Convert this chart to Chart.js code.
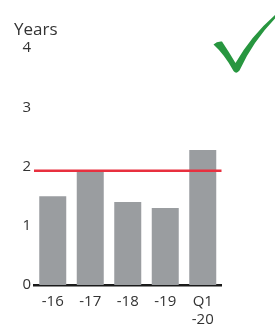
<!DOCTYPE html>
<html>
<head>
<meta charset="utf-8">
<script src="https://cdn.jsdelivr.net/npm/chart.js@4/dist/chart.umd.min.js"></script>
<style>
  html, body { margin: 0; padding: 0; background: #ffffff; }
  #wrap { width: 275px; height: 325px; position: relative; }
</style>
</head>
<body>
<div id="wrap"><canvas id="c" width="275" height="325"></canvas></div>
<script>
const categories = ["-16", "-17", "-18", "-19", ["Q1", "-20"]];
const maturityYears = [1.50, 1.92, 1.40, 1.30, 2.28];
const targetYears = [1.93];
const yTicks = [0, 1, 2, 3, 4];
const unitLabel = "Years";

const FONT = "'Open Sans', 'DejaVu Sans', sans-serif";

const overlay = {
  id: 'overlay',
  afterDatasetsDraw(chart) {
    const { ctx, chartArea, scales } = chart;
    const y = scales.y.getPixelForValue(targetYears[0]);
    ctx.save();
    ctx.strokeStyle = '#e8303f';
    ctx.lineWidth = 2.5;
    ctx.beginPath();
    ctx.moveTo(chartArea.left, y);
    ctx.lineTo(chartArea.right, y);
    ctx.stroke();
    ctx.restore();
  },
  afterDraw(chart) {
    const { ctx } = chart;
    ctx.save();
    ctx.fillStyle = '#333333';
    ctx.font = "17px " + FONT;
    ctx.textBaseline = 'alphabetic';
    ctx.textAlign = 'left';
    ctx.fillText(unitLabel, 14, 34.5);
    // green check mark
    ctx.fillStyle = '#27963f';
    ctx.beginPath();
    ctx.moveTo(213.5, 44.5);
    ctx.quadraticCurveTo(217, 41, 222, 41.5);
    ctx.quadraticCurveTo(229, 52, 235.5, 63);
    ctx.quadraticCurveTo(251, 36, 275, 15);
    ctx.lineTo(276, 17.5);
    ctx.quadraticCurveTo(253, 41, 239.5, 70.5);
    ctx.quadraticCurveTo(236.5, 74.5, 233.5, 71);
    ctx.quadraticCurveTo(225, 55, 213.5, 44.5);
    ctx.closePath();
    ctx.fill();
    ctx.restore();
  }
};

new Chart(document.getElementById('c'), {
  type: 'bar',
  data: {
    labels: categories,
    datasets: [{
      data: maturityYears,
      backgroundColor: '#9a9da0',
      borderWidth: 0,
      barPercentage: 0.72,
      categoryPercentage: 1.0
    }]
  },
  options: {
    responsive: false,
    animation: false,
    devicePixelRatio: 1,
    layout: { padding: { top: 48, right: 53.5, bottom: 0, left: 0 } },
    plugins: { legend: { display: false }, tooltip: { enabled: false }, title: { display: false } },
    scales: {
      x: {
        grid: { display: false, drawTicks: false },
        border: { display: true, color: '#1a1a1a', width: 2.5 },
        ticks: {
          color: '#333333',
          font: { family: FONT, size: 15, lineHeight: 1.2 },
          padding: 8,
          maxRotation: 0,
          autoSkip: false
        },
        afterFit(s) { s.height = 40; }
      },
      y: {
        min: 0,
        max: 4,
        afterBuildTicks(s) { s.ticks = yTicks.map(v => ({ value: v })); },
        grid: { display: false, drawTicks: false },
        border: { display: false },
        ticks: {
          color: '#333333',
          font: { family: FONT, size: 15 },
          padding: 3
        },
        afterFit(s) { s.width = 34; }
      }
    }
  },
  plugins: [overlay]
});
</script>
</body>
</html>
